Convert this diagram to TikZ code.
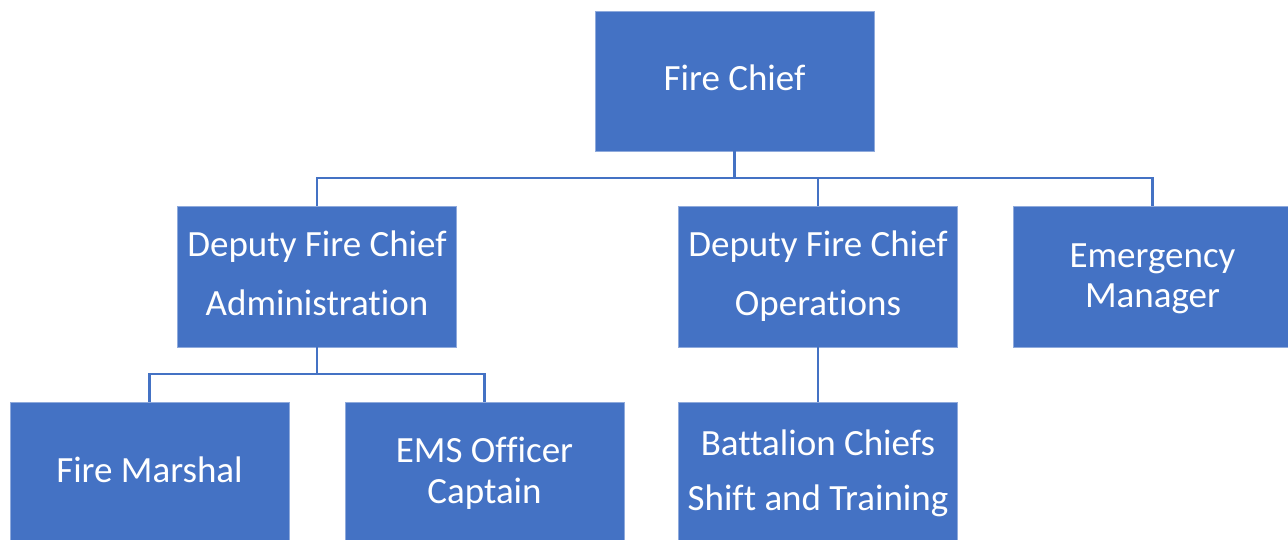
\documentclass[tikz,border=0pt]{standalone}
\usepackage{fontspec}
\setmainfont{Carlito}[Ligatures=NoCommon]
\definecolor{boxblue}{HTML}{4472C4}
\begin{document}
\begin{tikzpicture}[x=1pt,y=-1pt,
  orgbox/.style={rectangle, fill=boxblue, draw=boxblue!60!white, line width=0.6pt, minimum width=279pt, minimum height=140pt, inner sep=0pt},
  lbl/.style={anchor=base, text=white, inner sep=0pt, font=\fontsize{37}{44}\selectfont},
  conn/.style={draw=boxblue, line width=2.4pt}]
\useasboundingbox (0,0) rectangle (1288,540);
\clip (0,0) rectangle (1288,540);
\node[orgbox] (chief) at (734.5,81) {};
\node[orgbox, minimum height=141pt] (admin) at (317,276.5) {};
\node[orgbox, minimum height=141pt] (ops) at (818,276.5) {};
\node[orgbox, minimum height=141pt] (emerg) at (1152.5,276.5) {};
\node[orgbox] (marshal) at (149.5,472) {};
\node[orgbox] (ems) at (484.5,472) {};
\node[orgbox] (batt) at (818,472) {};
\coordinate (bus1) at (0,178);
\coordinate (bus2) at (0,374);
\draw[conn] (chief.south) -- (chief.south |- bus1);
\draw[conn] (admin.north) |- (bus1 -| emerg.north) -- (emerg.north);
\draw[conn] (ops.north) -- (ops.north |- bus1);
\draw[conn] (admin.south) -- (admin.south |- bus2);
\draw[conn] (marshal.north) |- (bus2 -| ems.north) -- (ems.north);
\draw[conn] (ops.south) -- (batt.north);
\node[lbl] (t1) at (734.5,91) {Fire Chief};
\node[lbl] (t2) at (317,257) {Deputy Fire Chief};
\node[lbl] (t3) at (317,315) {Administration};
\node[lbl] (t4) at (818,257) {Deputy Fire Chief};
\node[lbl] (t5) at (818,315) {Operations};
\node[lbl] (t6) at (1152.5,267) {Emergency};
\node[lbl] (t7) at (1152.5,307) {Manager};
\node[lbl] (t8) at (149.5,482) {Fire Marshal};
\node[lbl] (t9) at (484.5,462) {EMS Officer};
\node[lbl] (t10) at (484.5,503) {Captain};
\node[lbl] (t11) at (818,455) {Battalion Chiefs};
\node[lbl] (t12) at (818,510) {Shift and Training};
\end{tikzpicture}
\end{document}
